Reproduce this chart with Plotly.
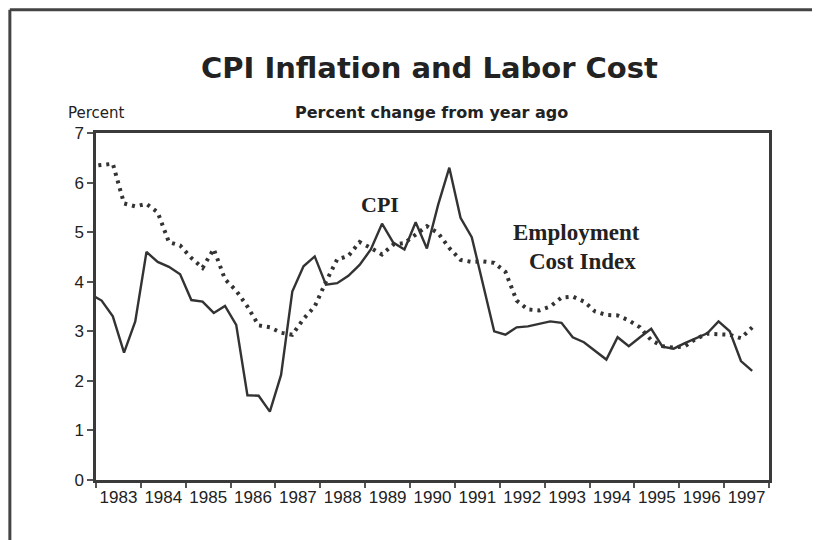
import plotly.graph_objects as go

# quarterly data, 1982Q4 (clipped at the axis) .. 1997Q3
first_year = 1982
first_q = 4

cpi = [3.75, 3.62, 3.30, 2.57, 3.20, 4.60, 4.40, 4.30, 4.15, 3.63,
       3.60, 3.37, 3.51, 3.13, 1.71, 1.70, 1.38, 2.12, 3.80, 4.31,
       4.51, 3.94, 3.97, 4.12, 4.34, 4.65, 5.17, 4.79, 4.65, 5.20,
       4.67, 5.55, 6.30, 5.29, 4.90, 3.95, 3.00, 2.93, 3.08, 3.10,
       3.15, 3.20, 3.17, 2.88, 2.78, 2.60, 2.43, 2.88, 2.70, 2.88,
       3.05, 2.69, 2.65, 2.76, 2.86, 2.96, 3.20, 3.00, 2.40, 2.20]

eci = [6.33, 6.36, 6.38, 5.58, 5.52, 5.57, 5.40, 4.80, 4.73, 4.48,
       4.28, 4.66, 4.05, 3.82, 3.50, 3.12, 3.08, 2.97, 2.93, 3.25,
       3.50, 4.00, 4.45, 4.52, 4.80, 4.68, 4.55, 4.75, 4.78, 4.95,
       5.12, 4.98, 4.68, 4.44, 4.40, 4.41, 4.38, 4.20, 3.62, 3.44,
       3.42, 3.50, 3.68, 3.70, 3.60, 3.40, 3.33, 3.32, 3.22, 3.08,
       2.82, 2.70, 2.67, 2.70, 2.85, 2.95, 2.95, 2.93, 2.86, 3.08]

year_labels = [str(y) for y in range(1983, 1998)]
y_ticks = [0, 1, 2, 3, 4, 5, 6, 7]

# quarter -> decimal year (middle of quarter)
x = []
for k in range(len(cpi)):
    qi = (first_q - 1) + k
    x.append(first_year + qi // 4 + (qi % 4) / 4 + 0.125)

ink = '#333333'

fig = go.Figure()
fig.add_trace(go.Scatter(x=x, y=eci, mode='lines', name='Employment Cost Index',
                         line=dict(color=ink, width=4, dash='3px,5px')))
fig.add_trace(go.Scatter(x=x, y=cpi, mode='lines', name='CPI',
                         line=dict(color=ink, width=2.4)))

fig.update_layout(
    width=812, height=532,
    margin=dict(l=88, r=51, t=125, b=60),
    paper_bgcolor='white', plot_bgcolor='white',
    showlegend=False,
    font=dict(family='Liberation Sans', color=ink),
    xaxis=dict(
        range=[1983, 1998],
        tickvals=[y + 0.5 for y in range(1983, 1998)],
        ticktext=year_labels,
        ticks='', showgrid=False, zeroline=False,
        showline=True, linecolor='#3a3a3a', linewidth=2.5, mirror=True,
        tickfont=dict(size=17, color='#222'),
        minor=dict(tick0=1983, dtick=1, ticks='outside', ticklen=5,
                   tickcolor='#555', tickwidth=1.5, showgrid=False),
    ),
    yaxis=dict(
        range=[0, 7], tickvals=y_ticks,
        ticks='outside', ticklen=6, tickcolor='#555', tickwidth=1.5,
        showgrid=False, zeroline=False,
        showline=True, linecolor='#3a3a3a', linewidth=2.5, mirror=True,
        tickfont=dict(size=17, color='#222'),
    ),
)

# outer frame (top and left edges of the page box)
fig.add_shape(type='line', xref='paper', yref='paper', x0=-0.128, x1=1.12, y0=1.355, y1=1.355,
              line=dict(color='#444', width=3))
fig.add_shape(type='line', xref='paper', yref='paper', x0=-0.128, x1=-0.128, y0=1.355, y1=-0.25,
              line=dict(color='#444', width=3))

fig.add_annotation(text='<b>CPI Inflation and Labor Cost</b>', xref='paper', yref='paper',
                   x=0.495, y=1.187, showarrow=False, xanchor='center', yanchor='middle',
                   font=dict(family='DejaVu Sans', size=29, color='#222'))
fig.add_annotation(text='Percent', xref='paper', yref='paper',
                   x=-0.044, y=1.058, showarrow=False, xanchor='left', yanchor='middle',
                   font=dict(family='DejaVu Sans', size=15, color='#222'))
fig.add_annotation(text='<b>Percent change from year ago</b>', xref='paper', yref='paper',
                   x=0.499, y=1.058, showarrow=False, xanchor='center', yanchor='middle',
                   font=dict(family='DejaVu Sans', size=16, color='#222'))
fig.add_annotation(text='<b>CPI</b>', x=1989.33, y=5.56, showarrow=False,
                   font=dict(family='Liberation Serif', size=22, color='#222'))
fig.add_annotation(text='<b>Employment</b>', x=1993.70, y=4.99, showarrow=False,
                   font=dict(family='Liberation Serif', size=23, color='#222'))
fig.add_annotation(text='<b>Cost Index</b>', x=1993.85, y=4.40, showarrow=False,
                   font=dict(family='Liberation Serif', size=23, color='#222'))

fig.write_html('out.html')
